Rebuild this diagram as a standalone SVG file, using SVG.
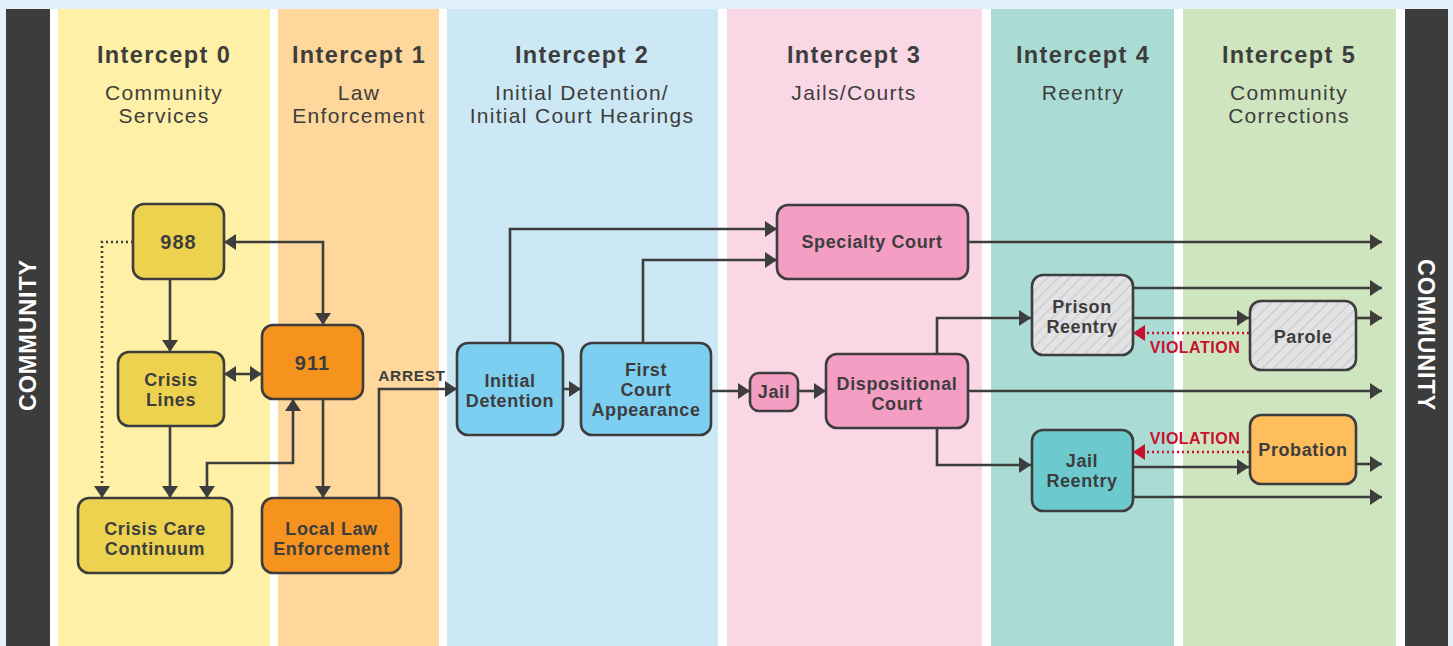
<svg xmlns="http://www.w3.org/2000/svg" width="1453" height="646" viewBox="0 0 1453 646">
<defs>
<style>
.hd{font-family:"Liberation Sans",Arial,sans-serif;font-weight:bold;font-size:23.5px;fill:#3d3d3d;text-anchor:middle;letter-spacing:1.4px}
.sub{font-family:"Liberation Sans",Arial,sans-serif;font-size:21px;fill:#3d3d3d;text-anchor:middle;letter-spacing:1.3px}
.nt{font-family:"Liberation Sans",Arial,sans-serif;font-weight:bold;font-size:18px;fill:#3d3d3d;text-anchor:middle;letter-spacing:0.6px}
.num{font-size:20px;letter-spacing:1px}
.box{stroke:#3d3d3d;stroke-width:2.6}
.cn{fill:none;stroke:#3d3d3d;stroke-width:2.6}
.vio{fill:none;stroke:#C8102E;stroke-width:2.6;stroke-dasharray:2 3}
.vt{font-family:"Liberation Sans",Arial,sans-serif;font-weight:bold;font-size:16px;fill:#C8102E;text-anchor:middle;letter-spacing:0.5px}
.side{font-family:"Liberation Sans",Arial,sans-serif;font-weight:bold;font-size:23.5px;fill:#ffffff;text-anchor:middle;letter-spacing:0.8px}
</style>
<marker id="ah" markerUnits="userSpaceOnUse" markerWidth="14" markerHeight="16" refX="12" refY="8" orient="auto-start-reverse"><path d="M0,0 L12,8 L0,16 z" fill="#3d3d3d"/></marker>
<marker id="ahr" markerUnits="userSpaceOnUse" markerWidth="14" markerHeight="16" refX="12" refY="8" orient="auto-start-reverse"><path d="M0,0 L12,8 L0,16 z" fill="#C8102E"/></marker>
<pattern id="hatch" patternUnits="userSpaceOnUse" width="8" height="8" patternTransform="rotate(45)"><rect width="8" height="8" fill="#E3E3E5"/><rect width="2" height="8" fill="#D2D2D5"/></pattern>
</defs>
<rect x="0" y="0" width="1453" height="646" fill="#E4F1FA"/>
<rect x="50" y="9" width="1355" height="637" fill="#ffffff"/>
<g id="columns">
<rect x="6" y="9" width="44" height="637" fill="#3C3C3C"/>
<rect x="58" y="9" width="212" height="637" fill="#FEF0A6"/>
<rect x="278" y="9" width="161" height="637" fill="#FDD79B"/>
<rect x="447" y="9" width="271" height="637" fill="#CCE8F5"/>
<rect x="727" y="9" width="255" height="637" fill="#F9D7E5"/>
<rect x="991" y="9" width="183" height="637" fill="#AADCD5"/>
<rect x="1183" y="9" width="213" height="637" fill="#CFE5BF"/>
<rect x="1405" y="9" width="43" height="637" fill="#3C3C3C"/>
<text class="side" transform="translate(36,335) rotate(-90)">COMMUNITY</text>
<text class="side" transform="translate(1418,335) rotate(90)">COMMUNITY</text>
</g>
<g id="headers">
<text class="hd" x="164" y="63">Intercept 0</text>
<text class="sub" x="164" y="100">Community</text>
<text class="sub" x="164" y="123">Services</text>
<text class="hd" x="359" y="63">Intercept 1</text>
<text class="sub" x="359" y="100">Law</text>
<text class="sub" x="359" y="123">Enforcement</text>
<text class="hd" x="582" y="63">Intercept 2</text>
<text class="sub" x="582" y="100">Initial Detention/</text>
<text class="sub" x="582" y="123">Initial Court Hearings</text>
<text class="hd" x="854" y="63">Intercept 3</text>
<text class="sub" x="854" y="100">Jails/Courts</text>
<text class="hd" x="1083" y="63">Intercept 4</text>
<text class="sub" x="1083" y="100">Reentry</text>
<text class="hd" x="1289" y="63">Intercept 5</text>
<text class="sub" x="1289" y="100">Community</text>
<text class="sub" x="1289" y="123">Corrections</text>
</g>
<g id="connectors">
<path class="cn" d="M133,242 H102 V498" stroke-dasharray="2 3" marker-end="url(#ah)"/>
<path class="cn" d="M170,279 V352" marker-end="url(#ah)"/>
<path class="cn" d="M224,242 H323 V325" marker-start="url(#ah)" marker-end="url(#ah)"/>
<path class="cn" d="M224,374 H262" marker-start="url(#ah)" marker-end="url(#ah)"/>
<path class="cn" d="M170,426 V498" marker-end="url(#ah)"/>
<path class="cn" d="M207,498 V463 H293 V399" marker-start="url(#ah)" marker-end="url(#ah)"/>
<path class="cn" d="M323,399 V498" marker-end="url(#ah)"/>
<path class="cn" d="M379,498 V389 H457" marker-end="url(#ah)"/>
<path class="cn" d="M563,389 H581" marker-end="url(#ah)"/>
<path class="cn" d="M510,343 V229 H777" marker-end="url(#ah)"/>
<path class="cn" d="M643,343 V260 H777" marker-end="url(#ah)"/>
<path class="cn" d="M711,391 H750" marker-end="url(#ah)"/>
<path class="cn" d="M798,391 H826" marker-end="url(#ah)"/>
<path class="cn" d="M968,242 H1382" marker-end="url(#ah)"/>
<path class="cn" d="M937,354 V318 H1031" marker-end="url(#ah)"/>
<path class="cn" d="M968,391 H1382" marker-end="url(#ah)"/>
<path class="cn" d="M937,428 V465 H1031" marker-end="url(#ah)"/>
<path class="cn" d="M1133,288 H1382" marker-end="url(#ah)"/>
<path class="cn" d="M1133,318 H1249" marker-end="url(#ah)"/>
<path class="cn" d="M1357,318 H1382" marker-end="url(#ah)"/>
<path class="vio" d="M1249,333 H1133" marker-end="url(#ahr)"/>
<path class="cn" d="M1133,467 H1249" marker-end="url(#ah)"/>
<path class="cn" d="M1357,464 H1382" marker-end="url(#ah)"/>
<path class="cn" d="M1133,497 H1382" marker-end="url(#ah)"/>
<path class="vio" d="M1249,452 H1133" marker-end="url(#ahr)"/>
<text class="nt" x="412" y="381" style="font-size:15.5px">ARREST</text>
<text class="vt" x="1195" y="353">VIOLATION</text>
<text class="vt" x="1195" y="444">VIOLATION</text>
</g>
<g id="n988"><rect class="box" x="133" y="204" width="91" height="75" rx="11" fill="#EDD250"/><text class="nt num" x="178.5" y="249">988</text></g>
<g id="n911"><rect class="box" x="262" y="325" width="101" height="74" rx="11" fill="#F6921E"/><text class="nt num" x="312.5" y="370">911</text></g>
<g id="crisis-lines"><rect class="box" x="118" y="352" width="106" height="74" rx="11" fill="#EDD250"/><text class="nt" x="171" y="386">Crisis</text><text class="nt" x="171" y="406">Lines</text></g>
<g id="crisis-care"><rect class="box" x="78" y="498" width="154" height="75" rx="11" fill="#EDD250"/><text class="nt" x="155" y="535">Crisis Care</text><text class="nt" x="155" y="555">Continuum</text></g>
<g id="local-law"><rect class="box" x="262" y="498" width="139" height="75" rx="11" fill="#F6921E"/><text class="nt" x="331.5" y="535">Local Law</text><text class="nt" x="331.5" y="555">Enforcement</text></g>
<g id="initial-detention"><rect class="box" x="457" y="343" width="106" height="92" rx="11" fill="#7DCFF2"/><text class="nt" x="510" y="387">Initial</text><text class="nt" x="510" y="407">Detention</text></g>
<g id="first-court"><rect class="box" x="581" y="343" width="130" height="92" rx="11" fill="#7DCFF2"/><text class="nt" x="646" y="376">First</text><text class="nt" x="646" y="396">Court</text><text class="nt" x="646" y="416">Appearance</text></g>
<g id="jail"><rect class="box" x="750" y="373" width="48" height="38" rx="9" fill="#F49EC4"/><text class="nt" x="774" y="398">Jail</text></g>
<g id="dispositional"><rect class="box" x="826" y="354" width="142" height="74" rx="11" fill="#F49EC4"/><text class="nt" x="897" y="390">Dispositional</text><text class="nt" x="897" y="410">Court</text></g>
<g id="specialty"><rect class="box" x="777" y="205" width="191" height="74" rx="11" fill="#F49EC4"/><text class="nt" x="872" y="248">Specialty Court</text></g>
<g id="prison-reentry"><rect class="box" x="1032" y="275" width="101" height="80" rx="11" fill="url(#hatch)"/><text class="nt" x="1082" y="313">Prison</text><text class="nt" x="1082" y="333">Reentry</text></g>
<g id="parole"><rect class="box" x="1250" y="301" width="106" height="69" rx="11" fill="url(#hatch)"/><text class="nt" x="1303" y="343">Parole</text></g>
<g id="jail-reentry"><rect class="box" x="1032" y="430" width="101" height="81" rx="11" fill="#6CCACF"/><text class="nt" x="1082" y="467">Jail</text><text class="nt" x="1082" y="487">Reentry</text></g>
<g id="probation"><rect class="box" x="1250" y="415" width="106" height="69" rx="11" fill="#FFBE5C"/><text class="nt" x="1303" y="456">Probation</text></g>
</svg>
